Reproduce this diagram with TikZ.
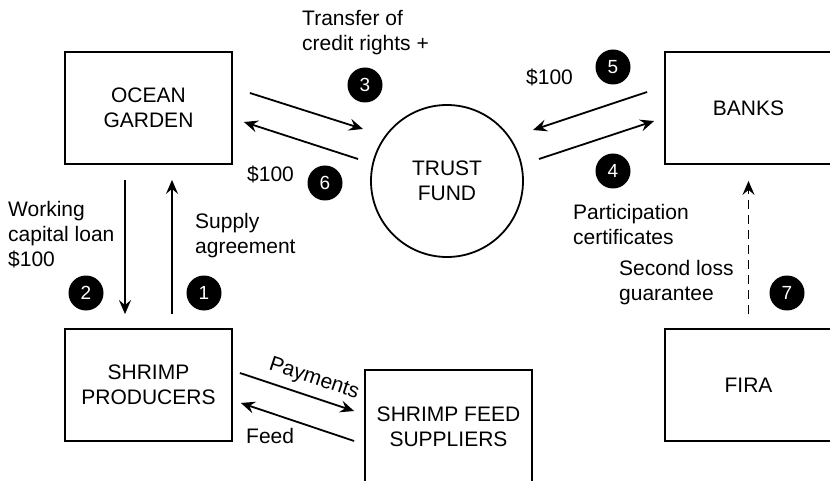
\documentclass[tikz,border=0pt]{standalone}
\usepackage{fontspec}
\setmainfont{Liberation Sans}
\usetikzlibrary{arrows.meta,calc}

\begin{document}
\begin{tikzpicture}[x=1pt,y=-1pt,
   every node/.style={font=\fontsize{21}{25}\selectfont},
   box/.style={draw,line width=1.8pt,minimum width=167pt,minimum height=112pt,align=center,inner sep=0pt},
   fund/.style={draw,circle,line width=1.8pt,minimum size=152pt,align=center,inner sep=0pt},
   num/.style={circle,fill=black,text=white,minimum size=35pt,inner sep=0pt,font=\fontsize{19}{19}\selectfont},
   lbl/.style={anchor=west,align=left,inner sep=0pt},
   arr/.style={line width=1.8pt,-{Stealth[length=14pt,width=12pt,inset=5pt]}}]

   \useasboundingbox (0,0) rectangle (830,481);
   \clip (0,0) rectangle (830,481);

   \node[box] (ocean) at (148.5,108) {OCEAN\\GARDEN};
   \node[box] (shrimp) at (148.5,385) {SHRIMP\\PRODUCERS};
   \node[box] (banks) at (748.5,108) {BANKS};
   \node[box] (fira) at (748.5,385) {FIRA};
   \node[box,minimum height=114pt] (feed) at (448.5,427) {SHRIMP FEED\\SUPPLIERS};
   \node[fund] (trust) at (447,181) {TRUST\\FUND};

   % ocean garden <-> trust fund
   \draw[arr] ($(ocean.east)+(17,-15)$) -- ($(trust)+(-84,-52)$);
   \draw[arr] ($(trust)+(-89,-22)$) -- ($(ocean.east)+(11,14)$);

   % banks <-> trust fund
   \draw[arr] ($(banks.west)+(-17,-16)$) -- ($(trust)+(86,-51)$);
   \draw[arr] ($(trust)+(92,-22)$) -- ($(banks.west)+(-10,13)$);

   % ocean garden <-> producers
   \draw[arr] ($(ocean.south)+(-23.5,15)$) -- ($(shrimp.north)+(-23.5,-14)$);
   \draw[arr] ($(shrimp.north)+(23.5,-14)$) -- ($(ocean.south)+(23.5,15)$);

   % producers <-> feed suppliers
   \draw[arr] ($(shrimp.east)+(7,-12)$) -- node[pos=0.6,sloped,above=4pt] {Payments} ($(feed.west)+(-10,-16)$);
   \draw[arr] ($(feed.west)+(-10,14)$) -- ($(shrimp.east)+(8,18)$);

   \draw[arr,dashed,dash pattern=on 9pt off 6pt] ($(fira.north)+(0,-14)$) -- ($(banks.south)+(0,16)$);

   \node[num] (n1) at (204,293) {1};
   \node[num] (n2) at (86,293) {2};
   \node[num] (n3) at (365,85) {3};
   \node[num] (n4) at (613,171) {4};
   \node[num] (n5) at (613,67) {5};
   \node[num] (n6) at (325,183) {6};
   \node[num] (n7) at (787,293) {7};

   \node[lbl] (transfer) at (302,33) {Transfer of\\credit rights +};
   \node[lbl] (cashsix) at (247,174) {\$100};
   \node[lbl] (cashfive) at (526,77) {\$100};
   \node[lbl] (certs) at (573,224) {Participation\\certificates};
   \node[lbl] (second) at (619,283) {Second loss\\guarantee};
   \node[lbl] (working) at (8,235) {Working\\capital loan\\\$100};
   \node[lbl] (supply) at (195,236) {Supply\\agreement};
   \node[lbl] (feedlbl) at (246,436) {Feed};
\end{tikzpicture}
\end{document}
